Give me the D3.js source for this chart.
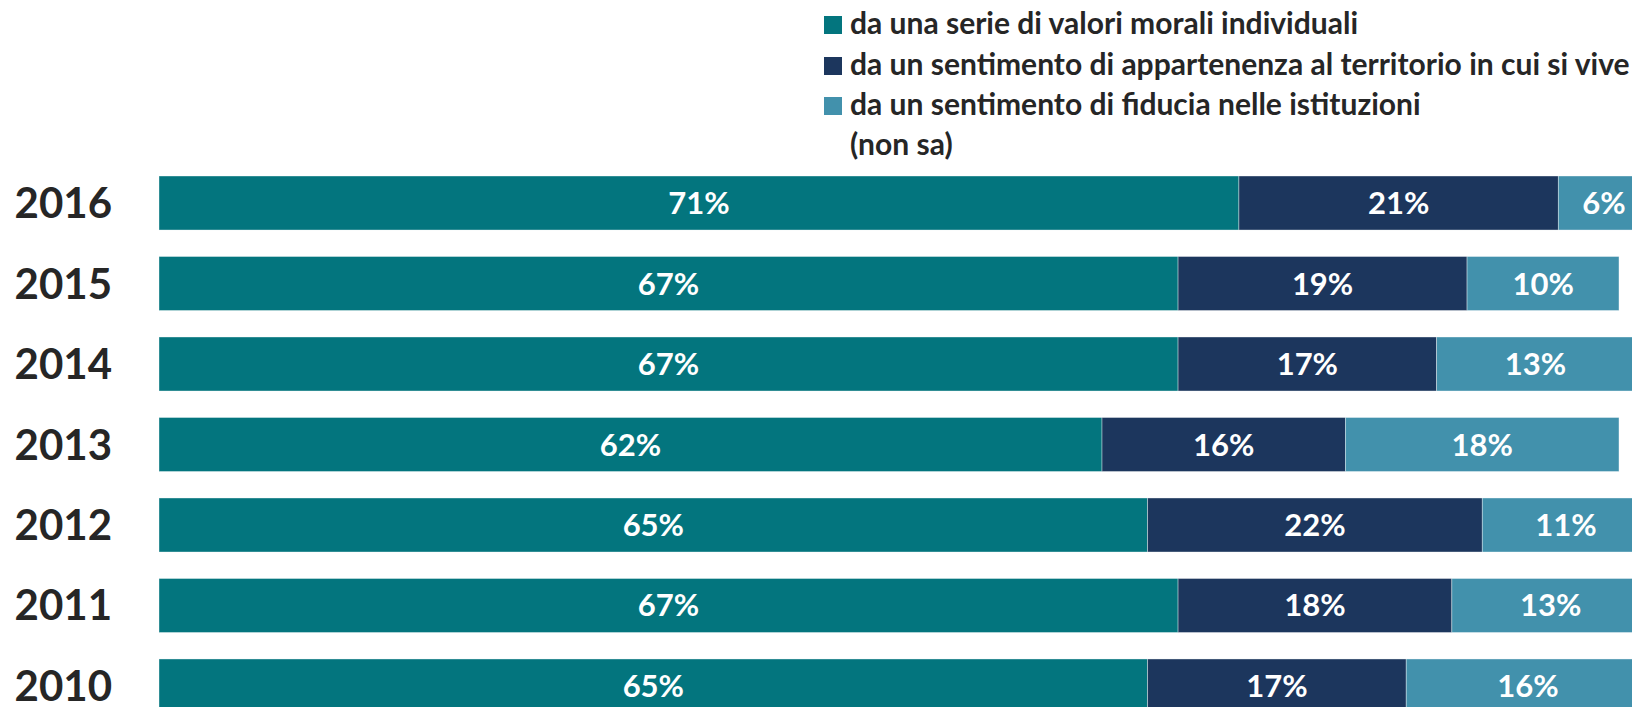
<!DOCTYPE html>
<html>
<head>
<meta charset="utf-8">
<script src="https://cdn.jsdelivr.net/npm/d3@7"></script>
<style>
  html, body { margin: 0; padding: 0; background: #fff; overflow: hidden; }
  svg { display: block; font-family: Lato, "Open Sans", sans-serif; }
</style>
</head>
<body>
<svg id="chart" width="1632" height="707"></svg>
<script>
// data
const years = ['2016', '2015', '2014', '2013', '2012', '2011', '2010'];
const valori = [71, 67, 67, 62, 65, 67, 65];
const appartenenza = [21, 19, 17, 16, 22, 18, 17];
const fiducia = [6, 10, 13, 18, 11, 13, 16];
const nonSa = [2, 4, 3, 4, 2, 2, 2];

const seriesNames = [
    'da una serie di valori morali individuali',
    'da un sentimento di appartenenza al territorio in cui si vive',
    'da un sentimento di fiducia nelle istituzioni',
    '(non sa)'
];
const seriesColors = ['#03757e', '#1c365d', '#4291ac', '#ffffff'];
const seriesValues = [valori, appartenenza, fiducia, nonSa];

const svg = d3.select('#chart');

let x = d3.scaleLinear()
    .domain([0, 100])
    .range([159, 1680]);

let y = d3.scaleBand()
    .domain(years)
    .range([176, 713])
    .paddingInner(0.329)
    .paddingOuter(0);

// stack the four series per year
const rows = years.map((yr, i) => {
    let row = {year: yr};
    seriesValues.forEach((vals, s) => row['s' + s] = vals[i]);
    return row;
});
const stack = d3.stack().keys(seriesNames.map((d, s) => 's' + s));
const stacked = stack(rows);

const layers = svg.append('g').selectAll('g')
    .data(stacked)
    .join('g')
    .attr('fill', (d, i) => seriesColors[i]);

layers.selectAll('rect')
    .data(d => d)
    .join('rect')
    .attr('x', d => x(d[0]))
    .attr('y', d => y(d.data.year))
    .attr('width', d => x(d[1]) - x(d[0]))
    .attr('height', y.bandwidth())
    .attr('stroke', 'rgba(255,255,255,0.5)')
    .attr('stroke-width', 0.75);

// value labels (not for "non sa")
layers.filter((d, i) => i < 3)
    .selectAll('text')
    .data(d => d)
    .join('text')
    .attr('x', d => (x(d[0]) + x(d[1])) / 2)
    .attr('y', d => y(d.data.year) + y.bandwidth() / 2 + 11)
    .attr('text-anchor', 'middle')
    .attr('fill', '#fff')
    .attr('font-weight', 700)
    .attr('font-size', 31)
    .text(d => (d[1] - d[0]) + '%');

// year labels
svg.append('g').selectAll('text')
    .data(years)
    .join('text')
    .attr('x', 112)
    .attr('y', d => y(d) + y.bandwidth() / 2 + 15)
    .attr('text-anchor', 'end')
    .attr('fill', '#262626')
    .attr('font-weight', 700)
    .attr('font-size', 42)
    .text(d => d);

// legend
const legend = svg.append('g');
const legendBase = [34, 75, 115, 155];
const items = legend.selectAll('g')
    .data(seriesNames)
    .join('g');

items.filter((d, i) => i < 3)
    .append('rect')
    .attr('x', 824)
    .attr('y', (d, i) => legendBase[i] - 18)
    .attr('width', 18)
    .attr('height', 18)
    .attr('fill', (d, i) => seriesColors[i]);

const legendText = items.append('text')
    .attr('x', 850)
    .attr('y', (d, i) => legendBase[i])
    .attr('fill', '#262626')
    .attr('font-weight', 700)
    .attr('font-size', 26)
    .text(d => d);

// fit the longest legend line to the width it has in the picture
let longest = d3.max(legendText.nodes(), n => n.getComputedTextLength());
let fs = 26 * 780 / longest;
legendText.attr('font-size', fs);
</script>
</body>
</html>
